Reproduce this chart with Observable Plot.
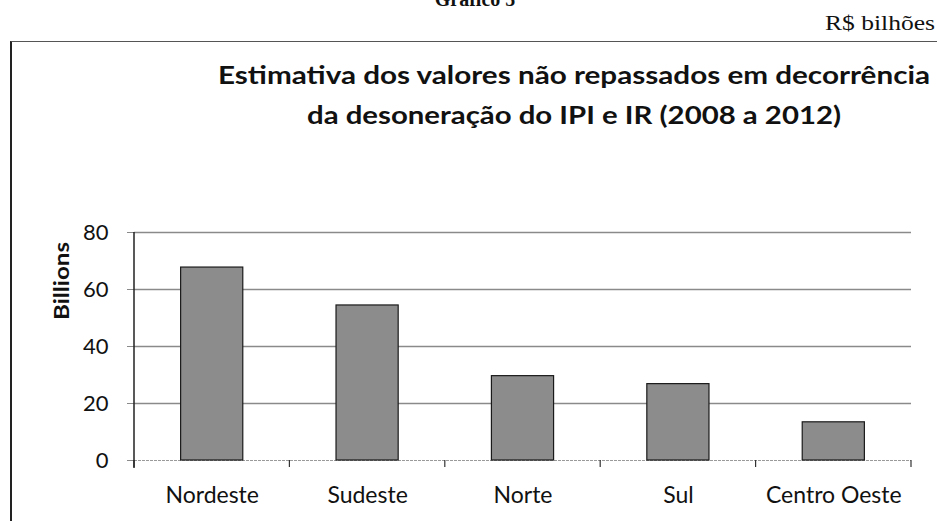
<!DOCTYPE html>
<html><head><meta charset="utf-8">
<script src="https://cdn.jsdelivr.net/npm/d3@7"></script>
<script src="https://cdn.jsdelivr.net/npm/@observablehq/plot@0.6"></script>
<style>
body{margin:0;background:#fff;}
#wrap{position:relative;width:937px;height:521px;overflow:hidden;background:#fff;}
#border{position:absolute;left:10px;top:41px;width:1000px;height:600px;border-left:2px solid #222;border-top:1.5px solid #555;}
#chart{position:absolute;left:0;top:0;}
#over{position:absolute;left:0;top:0;}
</style></head><body>
<div id="wrap">
  <div id="border"></div>
  <div id="chart"></div>
  <svg id="over" width="937" height="521">
    <text x="475" y="6" text-anchor="middle" font-family="Liberation Serif" font-weight="700" font-size="20" fill="#111" id="g5"></text>
    <text x="825" y="30" font-family="Liberation Serif" font-size="20" fill="#111" textLength="110" lengthAdjust="spacingAndGlyphs" id="unit"></text>
    <text x="218" y="84" font-family="Lato" font-weight="700" font-size="25" fill="#111" textLength="712" lengthAdjust="spacingAndGlyphs" id="t1"></text>
    <text x="307" y="124" font-family="Lato" font-weight="700" font-size="25" fill="#111" textLength="534" lengthAdjust="spacingAndGlyphs" id="t2"></text>
    <text x="0" y="0" transform="translate(69,281) rotate(-90)" text-anchor="middle" font-family="Lato" font-weight="700" font-size="21" fill="#111" textLength="78" lengthAdjust="spacingAndGlyphs" id="ylab"></text>
  </svg>
</div>
<script>
const chartLabel = "Gráfico 5";
const unitLabel = "R$ bilhões";
const titleLines = ["Estimativa dos valores não repassados em decorrência", "da desoneração do IPI e IR (2008 a 2012)"];
const yLabel = "Billions";
const regions = ["Nordeste", "Sudeste", "Norte", "Sul", "Centro Oeste"];
const values = [67.7, 54.4, 29.6, 26.8, 13.4];
const yTicks = [0, 20, 40, 60, 80];

document.getElementById("g5").textContent = chartLabel;
document.getElementById("unit").textContent = unitLabel;
document.getElementById("t1").textContent = titleLines[0];
document.getElementById("t2").textContent = titleLines[1];
document.getElementById("ylab").textContent = yLabel;

const data = regions.map((r, i) => ({region: r, value: values[i]}));

function frameTicks(index, scales, vals, dims) {
  const x = scales.x;
  const step = x(regions[1]) - x(regions[0]);
  const bw = x.bandwidth ? x.bandwidth() : step * 0.4;
  const gap = (step - bw) / 2;
  const bounds = regions.map(r => x(r) - gap).concat([x(regions[regions.length - 1]) + bw + gap]);
  const y0 = dims.height - dims.marginBottom;
  const g = d3.create("svg:g");
  g.selectAll("line.t").data(bounds).join("line").attr("class", "t")
    .attr("x1", d => d).attr("x2", d => d).attr("y1", y0).attr("y2", y0 + 7)
    .attr("stroke", "#333").attr("stroke-width", 1.2);
  g.append("line").attr("x1", dims.marginLeft).attr("x2", dims.marginLeft)
    .attr("y1", scales.y(yTicks[yTicks.length - 1])).attr("y2", y0 + 8)
    .attr("stroke", "#222").attr("stroke-width", 1.5);
  return g.node();
}

const plot = Plot.plot({
  width: 937,
  height: 521,
  marginLeft: 134,
  marginRight: 26,
  marginTop: 232,
  marginBottom: 61,
  style: {fontFamily: "Lato", fontSize: "22px", color: "#111", background: "transparent", overflow: "visible"},
  x: {domain: regions, paddingInner: 0.6, paddingOuter: 0.3, round: false},
  y: {domain: [0, 80]},
  marks: [
    Plot.ruleY(yTicks.filter(d => d > 0), {stroke: "#8a8a8a", strokeWidth: 1.5}),
    Plot.ruleY([0], {stroke: "#9a9a9a", strokeWidth: 1.2, strokeDasharray: "3,1"}),
    Plot.barY(data, {x: "region", y: "value", fill: "#8c8c8c", stroke: "#1a1a1a", strokeWidth: 1.2}),
    Plot.axisY({ticks: yTicks, tickSize: 7, tickPadding: 19, stroke: "#8a8a8a", label: null}),
    Plot.axisX({tickSize: 0, tickPadding: 26, label: null, fontSize: 23}),
    frameTicks
  ]
});
document.getElementById("chart").appendChild(plot);
</script>
</body></html>
